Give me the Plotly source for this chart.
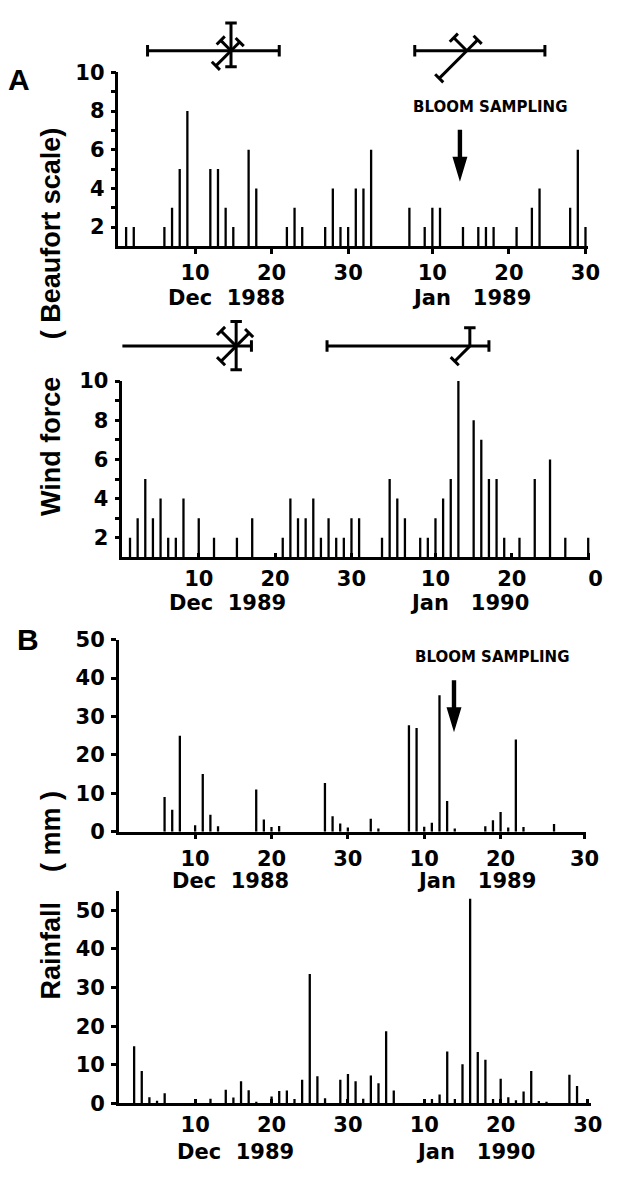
import math
import plotly.graph_objects as go

W, H = 620, 1180

# ---------------- data ----------------
# day index along each time axis (1 = 1 Dec, then running on into January)
wind_8889_day = [1, 2, 6, 7, 8, 9, 12, 13, 14, 15, 17, 18, 22, 23, 24, 27, 28, 29, 30, 31, 32, 33,
                 38, 40, 41, 42, 45, 47, 48, 49, 52, 54, 55, 59, 60, 61]
wind_8889_force = [2, 2, 2, 3, 5, 8, 5, 5, 3, 2, 6, 4, 2, 3, 2, 2, 4, 2, 2, 4, 4, 6,
                   3, 2, 3, 3, 2, 2, 2, 2, 2, 3, 4, 3, 6, 2]

wind_8990_day = [1, 2, 3, 4, 5, 6, 7, 8, 10, 12, 15, 17, 21, 22, 23, 24, 25, 26, 27, 28, 29, 30, 31,
                 34, 35, 36, 37, 39, 40, 41, 42, 43, 44, 46, 47, 48, 49, 50, 52, 54, 56, 58, 61]
wind_8990_force = [2, 3, 5, 3, 4, 2, 2, 4, 3, 2, 2, 3, 2, 4, 3, 3, 4, 2, 3, 2, 2, 3, 3,
                   2, 5, 4, 3, 2, 2, 3, 4, 5, 10, 8, 7, 5, 5, 2, 2, 5, 6, 2, 2]

rain_8889_day = [6, 7, 8, 10, 11, 12, 13, 18, 19, 20, 21, 27, 28, 29, 30, 33, 34,
                 38, 39, 40, 41, 42, 43, 44, 48, 49, 50, 51, 52, 53, 57]
rain_8889_mm = [9, 5.7, 25, 1.7, 15, 4.4, 1.4, 11, 3.2, 1.2, 1.5, 12.7, 4, 2.1, 1.1, 3.4, 0.8,
                27.7, 27, 1.3, 2.3, 35.5, 8, 0.8, 1.4, 3, 5.1, 1.1, 24, 1.2, 2]

rain_8990_day = [2, 3, 4, 5, 6, 10, 12, 14, 15, 16, 17, 18, 20, 21, 22, 23, 24, 25, 26, 27,
                 29, 30, 31, 32, 33, 34, 35, 36, 40, 41, 42, 43, 44, 45, 46, 47, 48, 49,
                 50, 51, 52, 53, 54, 55, 56, 59, 60]
rain_8990_mm = [14.8, 8.4, 1.6, 0.7, 2.6, 0.8, 1.2, 3.5, 1.5, 5.7, 3.4, 0.4, 1.8, 3.2, 3.3, 1.1, 6.1, 33.5, 7, 1.3,
                6.1, 7.6, 5.7, 1.2, 7.2, 5.2, 18.7, 3.3, 0.6, 1.1, 2.3, 13.4, 1.1, 10.1, 53, 13.3, 11.3, 1.1,
                6.4, 1.6, 0.8, 3.1, 8.4, 0.6, 0.4, 7.4, 4.5]

tick_text_88 = ['10', '20', '30', '10', '20', '30']
tick_text_89w = ['10', '20', '30', '10', '20', '\u00a0\u00a00']
tick_text_89r = ['10', '20', '30', '10', '20', '30']
months_88 = ['Dec\u00a0\u00a01988', 'Jan\u00a0\u00a0\u00a01989']
months_89 = ['Dec\u00a0\u00a01989', 'Jan\u00a0\u00a0\u00a01990']
wind_ticks = [2, 3, 4, 5, 6, 7, 8, 9, 10]
wind_tick_text = ['2', '', '4', '', '6', '', '8', '', '10']
rain_ticks = [0, 10, 20, 30, 40, 50]

# wind-direction roses: days of wind from each direction (arm length in days)
rose_dir_deg = [90, 45, 0, -45, -90, -135, 180, 135]   # N NE E SE S SW W NW
rose_dec88 = [3.6, 1.6, 6.3, 0, 2.1, 2.8, 10.9, 1.9]
rose_jan89 = [0, 2.0, 10.2, 0, 0, 5.1, 6.8, 2.4]
rose_dec89 = [3.2, 2.4, 2.0, 0, 3.1, 2.8, 15.1, 2.8]
rose_jan90 = [2.4, 0, 2.5, 0, 0, 2.8, 18.7, 0]

# ---------------- layout geometry (pixels) ----------------
panels = [
    dict(x0=121.0, ppd=7.82, xmax=61.3, ybot=239.3, ytop=61.7, yr=[1, 10]),
    dict(x0=125.0, ppd=7.80, xmax=61.3, ybot=556.7, ytop=376.7, yr=[1, 10]),
    dict(x0=121.3, ppd=7.80, xmax=61.2, ybot=836.7, ytop=640.7, yr=[0, 50]),
    dict(x0=121.4, ppd=7.80, xmax=61.8, ybot=1114.0, ytop=897.3, yr=[0, 55]),
]


def xdom(p):
    return [p['x0'] / W, (p['x0'] + p['ppd'] * p['xmax']) / W]


def ydom(b, t):
    return [1 - b / H, 1 - t / H]


TICKFONT = dict(family='DejaVu Sans', size=21, color='black', weight='bold')
fig = go.Figure()

series = [(wind_8889_day, wind_8889_force), (wind_8990_day, wind_8990_force),
          (rain_8889_day, rain_8889_mm), (rain_8990_day, rain_8990_mm)]
xticks = [[10, 20, 30, 41, 51, 61], [10, 20, 30, 41, 51, 61],
          [10, 20, 30, 40, 50, 61], [10, 20, 30, 40, 50, 61.4]]
xtext = [tick_text_88, tick_text_89w, tick_text_89r, tick_text_89r]
xtickdir = ['outside', 'inside', 'outside', 'inside']

layout = {}
for i, (p, (d, v)) in enumerate(zip(panels, series)):
    n = '' if i == 0 else str(i + 1)
    fig.add_trace(go.Bar(x=d, y=v, width=0.3, marker=dict(color='black', line=dict(width=0)),
                         xaxis='x' + n, yaxis='y' + n, showlegend=False, hoverinfo='skip'))
    layout['xaxis' + n] = dict(domain=xdom(p), range=[0, p['xmax']], anchor='y' + n,
                               showgrid=False, zeroline=False, showline=True, linecolor='black',
                               linewidth=2.5, ticks=xtickdir[i], ticklen=5, tickwidth=2.5, tickcolor='black',
                               tickvals=xticks[i], ticktext=xtext[i], tickfont=TICKFONT,
                               ticklabelstandoff=1)
    if i < 2:
        yt = dict(tickvals=wind_ticks, ticktext=wind_tick_text)
    else:
        yt = dict(tickvals=rain_ticks, ticktext=[str(t) for t in rain_ticks])
    layout['yaxis' + n] = dict(domain=ydom(p['ybot'], p['ytop']), range=p['yr'], anchor='x' + n,
                               showgrid=False, zeroline=False, showline=True, linecolor='black',
                               linewidth=2.5, ticks='outside', ticklen=5, tickwidth=2.5, tickcolor='black',
                               tickfont=TICKFONT, ticklabelstandoff=2, **yt)


# roses drawn on hidden overlay axes with the same day scale in x and y
def rose_xy(cx, lengths, cap=1.5):
    xs, ys = [], []
    for ang, L in zip(rose_dir_deg, lengths):
        if L <= 0:
            continue
        a = math.radians(ang)
        ex, ey = cx + L * math.cos(a), L * math.sin(a)
        xs += [cx, ex, None]
        ys += [0, ey, None]
        qx, qy = -math.sin(a) * cap / 2, math.cos(a) * cap / 2
        xs += [ex - qx, ex + qx, None]
        ys += [ey - qy, ey + qy, None]
    return xs, ys


rose_sets = [(panels[0], 2, 80, 39.5, [(14.7, rose_dec88), (45.5, rose_jan89)]),
             (panels[1], 303, 375, 341.0, [(14.9, rose_dec89), (45.5, rose_jan90)])]
for k, (p, bt, bb, cy, roses) in enumerate(rose_sets):
    n = str(5 + k)
    layout['xaxis' + n] = dict(domain=xdom(p), range=[0, p['xmax']], visible=False, anchor='y' + n)
    layout['yaxis' + n] = dict(domain=ydom(bb, bt), range=[-(bb - cy) / p['ppd'], (cy - bt) / p['ppd']],
                               visible=False, anchor='x' + n)
    for cx, lens in roses:
        xs, ys = rose_xy(cx, lens)
        fig.add_trace(go.Scatter(x=xs, y=ys, mode='lines', line=dict(color='black', width=3),
                                 xaxis='x' + n, yaxis='y' + n, showlegend=False, hoverinfo='skip'))

# bloom-sampling arrows
arrow_path = 'M 0 0 L -7.5 25 L -2.2 25 L -2.2 52 L 2.2 52 L 2.2 25 L 7.5 25 Z'
shapes = [
    dict(type='path', xref='x', yref='y', xsizemode='pixel', ysizemode='pixel', xanchor=44.6, yanchor=4.35,
         path=arrow_path, fillcolor='black', line=dict(width=0)),
    dict(type='path', xref='x3', yref='y3', xsizemode='pixel', ysizemode='pixel', xanchor=43.9, yanchor=25.9,
         path=arrow_path, fillcolor='black', line=dict(width=0)),
]

ann = []


def txt(s, xpx, ypx, size, family='DejaVu Sans', angle=0):
    ann.append(dict(text=s, x=xpx / W, y=1 - ypx / H, xref='paper', yref='paper', showarrow=False,
                    xanchor='center', yanchor='middle', textangle=angle,
                    font=dict(family=family, size=size, color='black', weight='bold')))


# month labels
for labels, xs, ypx in [(months_88, [231, 482], 292), (months_89, [232, 480], 603),
                        (months_88, [235, 487], 887), (months_89, [241, 486], 1164)]:
    for s, xpx in zip(labels, xs):
        txt(s, xpx, ypx, 21)

txt('BLOOM SAMPLING', 500, 97, 15)
txt('BLOOM SAMPLING', 503, 658, 15)
txt('A', 19, 69, 30, family='Arial')
txt('B', 29, 641, 30, family='Arial')
txt('( Beaufort scale)', 52, 226, 27, family='Arial', angle=-90)
txt('Wind force', 52, 443, 27, family='Arial', angle=-90)
txt('( mm )', 52, 836, 27, family='Arial', angle=-90)
txt('Rainfall', 52, 958, 27, family='Arial', angle=-90)

fig.update_layout(width=W, height=H, autosize=False, margin=dict(l=0, r=0, t=0, b=0),
                  paper_bgcolor='white', plot_bgcolor='white', showlegend=False,
                  annotations=ann, shapes=shapes, barmode='overlay', **layout)

fig.write_html('out.html')
